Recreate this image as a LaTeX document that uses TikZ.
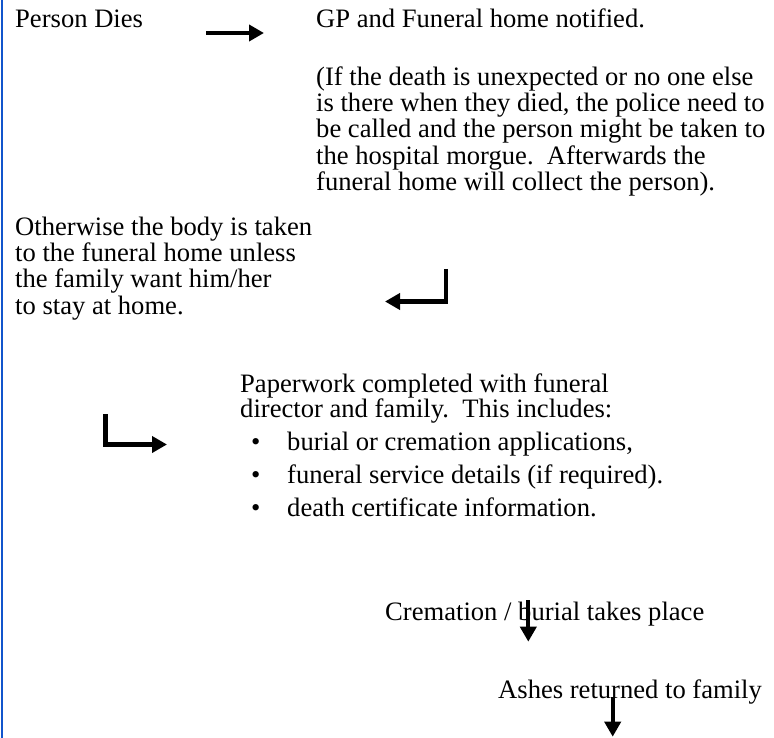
\documentclass[tikz,border=0pt]{standalone}
\usepackage{fontspec}
\setmainfont{Liberation Serif}
\usetikzlibrary{arrows.meta}
\definecolor{edgeblue}{HTML}{1155CC}
\newcommand\tstrut{\rule{0pt}{19pt}}
\newcommand\bodyfont{\fontsize{26.6}{26.3}\selectfont\lineskiplimit=-100pt\relax}
\newcommand\paperfont{\fontsize{26.6}{25}\selectfont\lineskiplimit=-100pt\relax}
\tikzset{
  txt/.style={anchor=north west, inner sep=0pt, align=left, font=\bodyfont},
  ptxt/.style={txt, font=\paperfont},
  flow/.style={line width=4.2pt, line join=miter, -{Triangle[length=15pt,width=16pt]}},
}
\begin{document}
\begin{tikzpicture}[x=1pt,y=-1pt]
\useasboundingbox (0,0) rectangle (774,738);
\fill[white] (0,0) rectangle (774,738);
\draw[edgeblue, line width=2.4pt] (2.2,0) -- (2.2,738);

\node[txt] (dies) at (15,8) {\tstrut Person Dies};
\node[txt] (gp) at (316,8) {\tstrut GP and Funeral home notified.};
\node[txt] (police) at (316,66) {\tstrut(If the death is unexpected or no one else\\is there when they died, the police need to\\be called and the person might be taken to\\the hospital morgue.\ \ Afterwards the\\funeral home will collect the person).};
\node[txt] (body) at (15,216) {\tstrut Otherwise the body is taken\\to the funeral home unless\\the family want him/her\\to stay at home.};
\node[ptxt] (paper) at (240,373) {\tstrut Paperwork completed with funeral\\director and family.\ \ This includes:};
\node[txt] (d1) at (251,431) {\tstrut\textbullet};
\node[txt] (b1) at (287,431) {\tstrut burial or cremation applications,};
\node[txt] (d2) at (251,464) {\tstrut\textbullet};
\node[txt] (b2) at (287,464) {\tstrut funeral service details (if required).};
\node[txt] (d3) at (251,497) {\tstrut\textbullet};
\node[txt] (b3) at (287,497) {\tstrut death certificate information.};
\node[txt] (crem) at (385,601) {\tstrut Cremation / burial takes place};
\node[txt] (ashes) at (498,679) {\tstrut Ashes returned to family};

\coordinate (a1s) at (206,33);   \coordinate (a1e) at (264,33);
\coordinate (a2s) at (446,269);  \coordinate (a2c) at (446,301.5); \coordinate (a2e) at (385,301.5);
\coordinate (a3s) at (105.5,414); \coordinate (a3c) at (105.5,444.5); \coordinate (a3e) at (167,444.5);
\coordinate (a4s) at (528.3,600); \coordinate (a4e) at (528.3,641.7);
\coordinate (a5s) at (612.7,696.7); \coordinate (a5e) at (612.7,736.7);

\draw[flow] (a1s) -- (a1e);
\draw[flow] (a2s) -- (a2c) -- (a2e);
\draw[flow] (a3s) -- (a3c) -- (a3e);
\draw[flow] (a4s) -- (a4e);
\draw[flow] (a5s) -- (a5e);
\end{tikzpicture}
\end{document}
